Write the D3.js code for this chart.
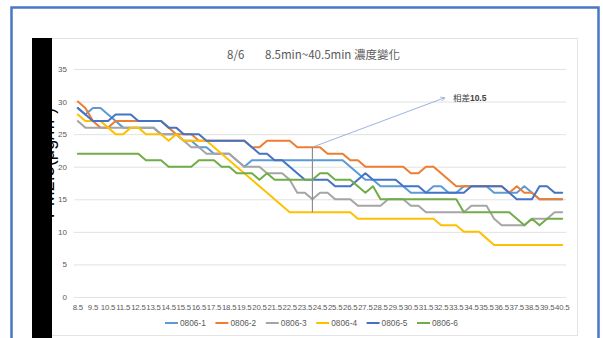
<!DOCTYPE html>
<html>
<head>
<meta charset="utf-8">
<script src="https://cdn.jsdelivr.net/npm/d3@7"></script>
<style>
    body { margin: 0; background: #fff; }
    svg { display: block; font-family: "Liberation Sans", "Noto Sans CJK TC", sans-serif; }
</style>
</head>
<body>
<div id="display"></div>
<script>
// Sampling times (min)
const categories = [
    "8.5","9","9.5","10","10.5","11","11.5","12","12.5","13","13.5","14","14.5","15","15.5","16",
    "16.5","17","17.5","18","18.5","19","19.5","20","20.5","21","21.5","22","22.5","23","23.5","24",
    "24.5","25","25.5","26","26.5","27","27.5","28","28.5","29","29.5","30","30.5","31","31.5","32",
    "32.5","33","33.5","34","34.5","35","35.5","36","36.5","37","37.5","38","38.5","39","39.5","40","40.5"
];

const seriesNames = ["0806-1", "0806-2", "0806-3", "0806-4", "0806-5", "0806-6"];

// PM2.5 readings per sensor
const s0806_1 = [29,28,29,29,28,27,26,26,26,26, 26,25,25,25,24,24,23,23,22,22, 22,21,20,21,21,21,21,21,21,21,
                 21,21,21,21,21,21,20,19,18,18, 17,17,17,17,16,16,16,17,17,16, 16,17,17,17,17,16,16,16,16,17, 16,15,15,15,15];
const s0806_2 = [30,29,27,26,26,27,27,27,27,27, 27,27,26,25,25,25,24,24,24,24, 24,24,24,23,23,24,24,24,24,23,
                 23,23,23,22,22,22,21,21,20,20, 20,20,20,20,19,19,20,20,19,18, 17,17,17,17,17,17,17,16,17,16, 16,15,15,15,15];
const s0806_3 = [27,26,26,26,26,26,26,26,26,26, 26,25,25,25,24,23,23,22,22,22, 22,21,20,20,20,19,19,19,18,16,
                 16,15,16,16,15,15,15,14,14,14, 14,15,15,15,14,14,13,13,13,13, 13,13,14,14,14,12,11,11,11,11, 12,12,12,13,13];
const s0806_4 = [28,27,27,27,26,25,25,26,26,25, 25,25,24,25,24,24,24,24,23,22, 21,20,19,18,17,16,15,14,13,13,
                 13,13,13,13,13,13,13,12,12,12, 12,12,12,12,12,12,12,12,11,11, 11,10,10,10,9,8,8,8,8,8, 8,8,8,8,8];
const s0806_5 = [29,28,27,27,27,28,28,28,27,27, 27,27,26,26,25,25,25,24,24,24, 24,24,24,23,22,22,21,21,20,19,
                 18,18,18,18,17,17,17,18,19,18, 18,18,18,17,17,17,16,16,16,16, 16,16,17,17,17,17,17,16,15,15, 15,17,17,16,16];
const s0806_6 = [22,22,22,22,22,22,22,22,22,21, 21,21,20,20,20,20,21,21,21,20, 20,19,19,19,18,19,18,18,18,18,
                 18,18,19,19,18,18,18,17,16,17, 15,15,15,15,15,15,15,15,15,15, 15,13,13,13,13,13,13,13,12,11, 12,11,12,12,12];

const seriesValues = [s0806_1, s0806_2, s0806_3, s0806_4, s0806_5, s0806_6];

const yTicks = [0, 5, 10, 15, 20, 25, 30, 35];
const xTickLabels = categories.filter(c => c.endsWith(".5"));

// Annotation: gap between highest and lowest reading at 24 min
const gapAt = "24";
const gapLabel = ["相差", "10.5"];

let style = {
    colors: ["#5b9bd5", "#ed7d31", "#a5a5a5", "#ffc000", "#4472c4", "#70ad47"],
    frame: "#4a76c6",
    grid: "#d9d9d9",
    text: "#595959",
    arrow: "#8eaadb"
};

const width = 603, height = 338;
const plot = { left: 74, right: 566, top: 69, bottom: 297 };

const svg = d3.select("#display").append("svg").attr("width", width).attr("height", height);

// Outer slide frame and chart area
svg.append("rect").attr("x", 11.5).attr("y", 7.5).attr("width", 587).attr("height", 340)
    .attr("fill", "#fff").attr("stroke", style.frame).attr("stroke-width", 2.5);
svg.append("rect").attr("x", 32.5).attr("y", 38.5).attr("width", 545).attr("height", 297)
    .attr("fill", "#fff").attr("stroke", "#e3e3e3").attr("stroke-width", 1);

const x = d3.scaleBand().domain(categories).range([plot.left, plot.right]).padding(0);
const y = d3.scaleLinear().domain([0, 35]).range([plot.bottom, plot.top]);
const cx = c => x(c) + x.bandwidth() / 2;

// Gridlines
svg.append("g").selectAll("line").data(yTicks).enter().append("line")
    .attr("x1", plot.left).attr("x2", plot.right)
    .attr("y1", d => y(d) + 0.5).attr("y2", d => y(d) + 0.5)
    .attr("stroke", style.grid).attr("stroke-width", 0.8);

// Y axis labels
const yAxis = svg.append("g").attr("transform", `translate(${plot.left - 7},0)`)
    .call(d3.axisLeft(y).tickValues(yTicks).tickSize(0).tickPadding(0));
yAxis.select(".domain").remove();
yAxis.selectAll("text").attr("fill", style.text).attr("font-size", 8)
    .attr("font-family", "Liberation Sans");

// X axis labels
const xAxis = svg.append("g").attr("transform", `translate(0,${plot.bottom + 7})`)
    .call(d3.axisBottom(x).tickValues(xTickLabels).tickSize(0).tickPadding(0));
xAxis.select(".domain").remove();
xAxis.selectAll("text").attr("fill", style.text).attr("font-size", 7.8)
    .attr("font-family", "Liberation Sans").attr("letter-spacing", -0.2);

// Series lines
const line = d3.line().x((d, i) => cx(categories[i])).y(d => y(d));
svg.append("g").selectAll("path").data(seriesValues).enter().append("path")
    .attr("d", line)
    .attr("fill", "none")
    .attr("stroke", (d, i) => style.colors[i])
    .attr("stroke-width", 2)
    .attr("stroke-linejoin", "round")
    .attr("stroke-linecap", "round");

// Gap annotation
const gi = categories.indexOf(gapAt);
const gapVals = seriesValues.map(s => s[gi]);
const gx = cx(gapAt);
svg.append("line").attr("x1", gx).attr("x2", gx)
    .attr("y1", y(d3.max(gapVals))).attr("y2", y(d3.min(gapVals)))
    .attr("stroke", "#8c8c8c").attr("stroke-width", 1.2);

svg.append("defs").append("marker")
    .attr("id", "arrow").attr("viewBox", "0 0 10 10").attr("refX", 9).attr("refY", 5)
    .attr("markerWidth", 6).attr("markerHeight", 6).attr("orient", "auto")
    .append("path").attr("d", "M1,1 L9,5 L1,9").attr("fill", "none")
    .attr("stroke", style.arrow).attr("stroke-width", 1.3);

const tipX = x("33"), tipY = y(30.6);
svg.append("line").attr("x1", gx).attr("y1", y(d3.max(gapVals)))
    .attr("x2", tipX).attr("y2", tipY)
    .attr("stroke", style.arrow).attr("stroke-width", 0.9).attr("marker-end", "url(#arrow)");

const note = svg.append("text").attr("x", tipX + 8).attr("y", tipY + 3.5)
    .attr("font-size", 8.5).attr("fill", "#404040");
note.append("tspan").attr("font-family", "Noto Sans CJK TC").text(gapLabel[0]);
note.append("tspan").attr("font-weight", "bold").text(gapLabel[1]);

// Title
svg.append("text").attr("x", 227).attr("y", 59).attr("font-size", 11.5).attr("fill", style.text)
    .attr("font-family", "Noto Sans CJK TC").text("8/6");
svg.append("text").attr("x", 265).attr("y", 59).attr("font-size", 11.5).attr("fill", style.text)
    .attr("font-family", "Noto Sans CJK TC").text("8.5min~40.5min 濃度變化");

// Legend
const legend = svg.append("g").selectAll("g").data(seriesNames).enter().append("g")
    .attr("transform", (d, i) => `translate(${165 + i * 50.4},323)`);
legend.append("line").attr("x1", 0).attr("x2", 13).attr("y1", 0).attr("y2", 0)
    .attr("stroke", (d, i) => style.colors[i]).attr("stroke-width", 2);
legend.append("text").attr("x", 15).attr("y", 3).attr("font-size", 8.3)
    .attr("fill", style.text).text(d => d);

// Redaction bar over the y title
svg.append("text").attr("transform", "translate(54,163) rotate(-90)")
    .attr("text-anchor", "middle").attr("font-size", 18).attr("fill", "#000")
    .text("PM2.5(μg/m³)");
svg.append("rect").attr("x", 32).attr("y", 38).attr("width", 20).attr("height", 300).attr("fill", "#000");
</script>
</body>
</html>
